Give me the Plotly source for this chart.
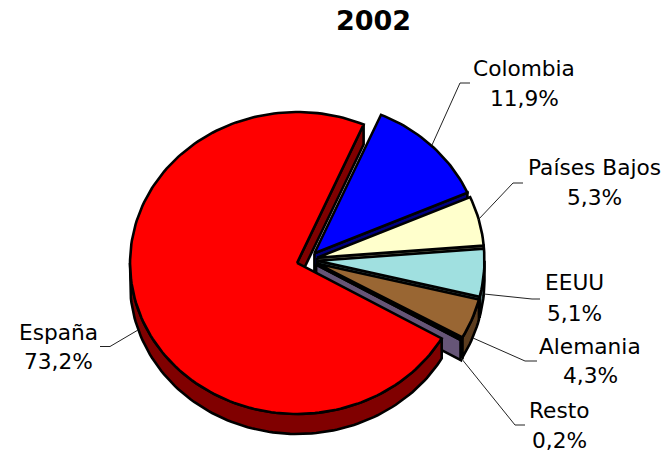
import math
import plotly.graph_objects as go

# --- data ---
categories = ["Colombia", "Países Bajos", "EEUU", "Alemania", "Resto", "España"]
shares = [11.9, 5.3, 5.1, 4.3, 0.2, 73.2]
title_text = "2002"

# --- styles ---
top_colors = ["#0000FF", "#FFFFCC", "#A0E0E0", "#996633", "#666699", "#FF0000"]
wall_colors = ["#000080", "#808066", "#507070", "#5C3D1F", "#665577", "#800000"]
START_ANGLE = 23.5
CX, CY = 307, 260      # common pie centre (pixels)
RX, RY = 167, 151      # tilted pie ellipse radii
DEPTH = 20
EXPLODE = 10.5
FONT = "DejaVu Sans, Verdana, sans-serif"
FS = 21.7
# label layout: centre x, y line 1, y line 2
label_pos = [(524, 68, 98), (594, 167, 197), (574, 282, 313),
             (590, 346, 375), (559, 410, 440), (58, 332, 361)]
# leader layout: elbow points from slice edge towards its label
leaders = [[(432, 145), (460, 83), (470, 83)],
           [(478, 220), (513, 183), (523, 183)],
           [(484, 294), (532, 299), (540, 299)],
           [(473, 338), (525, 361), (537, 361)],
           [(461, 358), (515, 425), (525, 425)],
           [(138, 330), (110, 346.5), (100, 346.5)]]


def pt(ox, oy, deg, dz=0):
    r = math.radians(deg)
    return ox + RX * math.sin(r), oy - RY * math.cos(r) + dz


def arc(ox, oy, a0, a1, dz=0):
    n = max(2, int(abs(a1 - a0) / 1.5) + 2)
    return [pt(ox, oy, a0 + (a1 - a0) * i / (n - 1), dz) for i in range(n)]


def poly(fig, points, color, name):
    xs = [p[0] for p in points] + [points[0][0]]
    ys = [p[1] for p in points] + [points[0][1]]
    fig.add_trace(go.Scatter(x=xs, y=ys, mode="lines", fill="toself", fillcolor=color,
                             line=dict(color="black", width=2.6, shape="linear"),
                             name=name, showlegend=False, hoverinfo="name"))


fig = go.Figure()
total = sum(shares)
a = START_ANGLE
for name, v, top, wall in zip(categories, shares, top_colors, wall_colors):
    sweep = 360 * v / total
    a0, a1 = a, a + sweep
    a = a1
    mid = math.radians((a0 + a1) / 2)
    ox = CX + EXPLODE * math.sin(mid)
    oy = CY - EXPLODE * math.cos(mid) * RY / RX
    # radial wall at the clockwise end of the slice
    p_out = pt(ox, oy, a1)
    poly(fig, [(ox, oy), p_out, (p_out[0], p_out[1] + DEPTH), (ox, oy + DEPTH)], wall, name)
    # outer rim, only on the part that faces the viewer
    lo, hi = max(a0, 90), min(a1, 270)
    if hi > lo:
        poly(fig, arc(ox, oy, lo, hi) + arc(ox, oy, hi, lo, DEPTH), wall, name)
    # top face
    poly(fig, [(ox, oy)] + arc(ox, oy, a0, a1), top, name)

# leader lines
for name, pts in zip(categories, leaders):
    fig.add_trace(go.Scatter(x=[p[0] for p in pts], y=[p[1] for p in pts], mode="lines",
                             line=dict(color="#222222", width=1), showlegend=False,
                             hoverinfo="skip"))

# labels
ann = []
for name, v, (lx, y1, y2) in zip(categories, shares, label_pos):
    pct = f"{v:.1f}".replace(".", ",") + "%"
    for txt, y in ((name, y1), (pct, y2)):
        ann.append(dict(x=lx, y=y, xref="x", yref="y", text=txt, showarrow=False,
                        xanchor="center", yanchor="middle",
                        font=dict(family=FONT, size=FS, color="black")))
ann.append(dict(x=373, y=20, xref="x", yref="y", text=f"<b>{title_text}</b>", showarrow=False,
                xanchor="center", yanchor="middle",
                font=dict(family=FONT, size=27, color="black")))

fig.update_layout(
    width=666, height=455, margin=dict(l=0, r=0, t=0, b=0),
    paper_bgcolor="white", plot_bgcolor="white", showlegend=False, annotations=ann,
    xaxis=dict(range=[0, 666], visible=False, fixedrange=True),
    yaxis=dict(range=[455, 0], visible=False, fixedrange=True),
)
fig.write_html("out.html", config={"displayModeBar": False},
               post_script="document.body.style.margin='0';document.body.style.overflow='hidden';")
